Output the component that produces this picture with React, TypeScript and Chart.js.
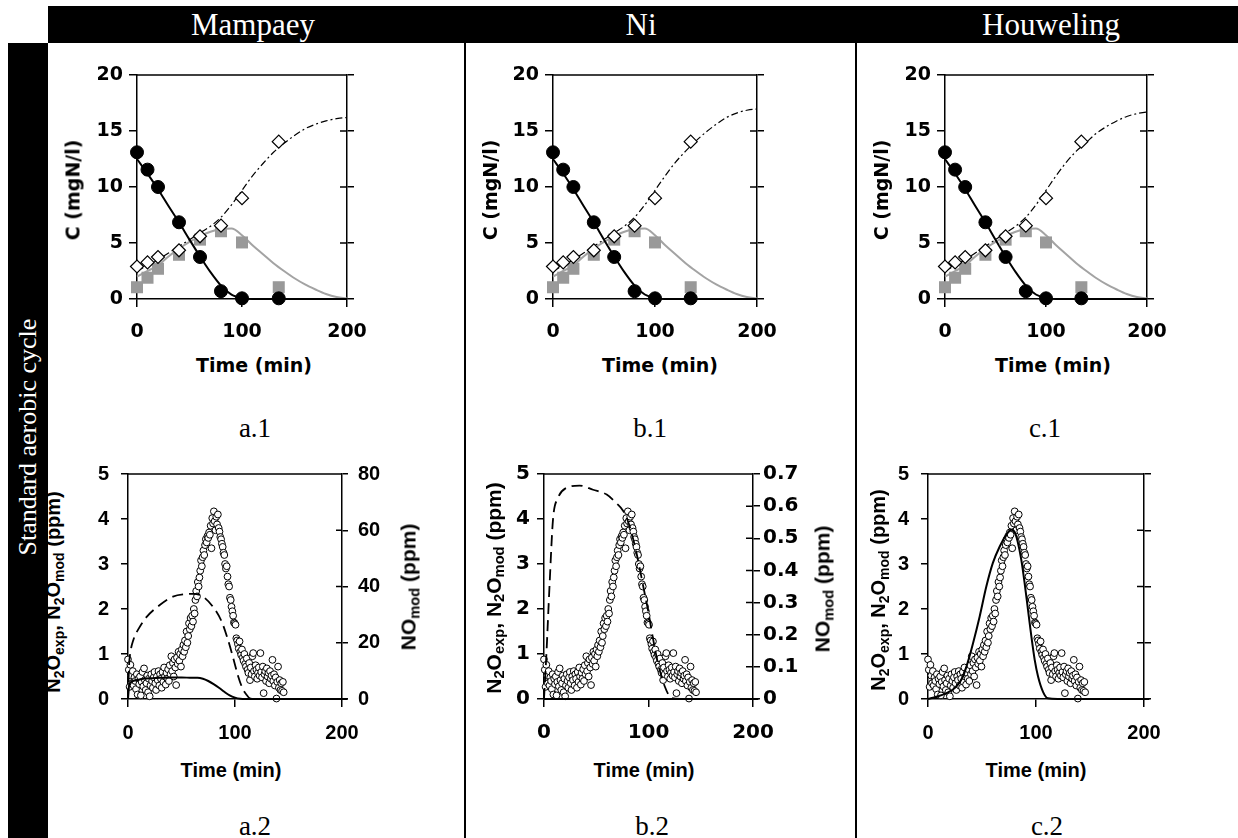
import React, { useEffect, useRef } from 'react';
import { Chart, registerables } from 'chart.js';

Chart.register(...registerables);

// ---------- Data: top row (concentrations, mgN/l) ----------
const expTime = [0, 10, 20, 40, 60, 80, 100, 135];
const nh4Exp = [13.1, 11.55, 10.0, 6.85, 3.75, 0.7, 0.06, 0.06];
const no2Exp = [1.05, 1.9, 2.7, 3.95, 5.3, 6.05, 5.05, 1.05];
const no3Exp = [2.9, 3.27, 3.75, 4.35, 5.6, 6.55, 9.0, 14.05];

const modelTimeTop = [0, 10, 20, 30, 40, 50, 60, 70, 80, 90, 100, 110, 120, 130, 140, 150, 160, 170, 180, 190, 200, 205];
const nh4Model = [12.5, 11.2, 9.8, 8.3, 6.85, 5.3, 3.8, 2.4, 1.2, 0.4, 0.08, 0, 0, 0, 0, 0, 0, 0, 0, 0, 0, 0];
const no2Model = [2.0, 2.5, 3.0, 3.8, 4.5, 5.1, 5.6, 6.0, 6.25, 6.3, 5.7, 4.8, 4.0, 3.2, 2.5, 1.85, 1.3, 0.85, 0.45, 0.18, 0.05, 0.03];
const no3ModelMampaey = [2.5, 3.0, 3.5, 4.1, 4.7, 5.3, 5.9, 6.5, 7.3, 8.4, 9.7, 11.0, 12.1, 13.1, 13.9, 14.6, 15.2, 15.6, 15.9, 16.1, 16.2, 16.2];
const no3ModelNi = [2.5, 3.0, 3.5, 4.1, 4.7, 5.3, 5.9, 6.5, 7.3, 8.4, 9.7, 11.0, 12.2, 13.2, 14.1, 14.9, 15.6, 16.2, 16.6, 16.85, 16.95, 16.95];
const no3ModelHouweling = [2.5, 3.0, 3.5, 4.1, 4.7, 5.3, 5.9, 6.5, 7.3, 8.4, 9.7, 11.0, 12.2, 13.2, 14.0, 14.8, 15.4, 15.9, 16.3, 16.55, 16.7, 16.72];

// ---------- Data: bottom row (N2O / NO, ppm) ----------
const n2oTime = [0, 0.75, 1.5, 2.25, 3, 3.75, 4.5, 5.25, 6, 6.75, 7.5, 8.25, 9, 9.75, 10.5, 11.25, 12, 12.75, 13.5, 14.25, 15, 15.75, 16.5, 17.25, 18, 18.75, 19.5, 20.25, 21, 21.75, 22.5, 23.25, 24, 24.75, 25.5, 26.25, 27, 27.75, 28.5, 29.25, 30, 30.75, 31.5, 32.25, 33, 33.75, 34.5, 35.25, 36, 36.75, 37.5, 38.25, 39, 39.75, 40.5, 41.25, 42, 42.75, 43.5, 44.25, 45, 45.75, 46.5, 47.25, 48, 48.75, 49.5, 50.25, 51, 51.75, 52.5, 53.25, 54, 54.75, 55.5, 56.25, 57, 57.75, 58.5, 59.25, 60, 60.75, 61.5, 62.25, 63, 63.75, 64.5, 65.25, 66, 66.75, 67.5, 68.25, 69, 69.75, 70.5, 71.25, 72, 72.75, 73.5, 74.25, 75, 75.75, 76.5, 77.25, 78, 78.75, 79.5, 80.25, 81, 81.75, 82.5, 83.25, 84, 84.75, 85.5, 86.25, 87, 87.75, 88.5, 89.25, 90, 90.75, 91.5, 92.25, 93, 93.75, 94.5, 95.25, 96, 96.75, 97.5, 98.25, 99, 99.75, 100.5, 101.25, 102, 102.75, 103.5, 104.25, 105, 105.75, 106.5, 107.25, 108, 108.75, 109.5, 110.25, 111, 111.75, 112.5, 113.25, 114, 114.75, 115.5, 116.25, 117, 117.75, 118.5, 119.25, 120, 120.75, 121.5, 122.25, 123, 123.75, 124.5, 125.25, 126, 126.75, 127.5, 128.25, 129, 129.75, 130.5, 131.25, 132, 132.75, 133.5, 134.25, 135, 135.75, 136.5, 137.25, 138, 138.75, 139.5, 140.25, 141, 141.75, 142.5, 143.25, 144, 144.75, 145.5];
const n2oExp = [
  0.88, 0.65, 0.27, 0.76, 0.52, 0.35, 0.62, 0.30, 0.48, 0.40,
  0.22, 0.55, 0.10, 0.45, 0.33, 0.50, 0.08, 0.38, 0.60, 0.28,
  0.68, 0.42, 0.20, 0.35, 0.52, 0.15, 0.45, 0.06, 0.30, 0.55,
  0.40, 0.25, 0.48, 0.60, 0.35, 0.20, 0.50, 0.42, 0.62, 0.30,
  0.55, 0.45, 0.25, 0.60, 0.38, 0.70, 0.50, 0.32, 0.58, 0.45,
  0.66, 0.40, 0.75, 0.55, 0.95, 0.62, 0.80, 0.50, 0.88, 0.70,
  0.31, 0.92, 0.78, 1.05, 0.85, 1.00, 0.72, 1.10, 0.95, 1.20,
  1.05, 1.30, 1.15, 1.50, 1.25, 1.40, 1.68, 1.55, 1.80, 1.62,
  1.85, 1.72, 2.00, 1.90, 2.20, 2.40, 2.28, 2.60, 2.50, 2.70,
  2.85, 3.08, 2.95, 3.15, 3.30, 3.20, 3.42, 3.55, 3.48, 3.62,
  3.58, 3.70, 3.65, 3.85, 3.35, 4.02, 3.90, 4.17, 3.95, 3.75,
  4.05, 3.88, 4.10, 3.80, 3.72, 3.60, 3.55, 3.45, 3.38, 3.25,
  3.20, 3.00, 2.90, 2.95, 2.72, 2.55, 2.50, 2.25, 2.20, 2.05,
  1.95, 1.85, 1.70, 1.68, 1.65, 1.35, 1.30, 1.22, 1.12, 1.28,
  1.05, 0.98, 1.10, 0.92, 0.85, 1.00, 0.78, 0.72, 0.90, 0.65,
  0.58, 0.80, 0.42, 0.70, 0.55, 0.95, 1.02, 0.62, 0.50, 0.75,
  0.65, 0.45, 0.58, 0.70, 0.52, 1.02, 0.60, 0.48, 0.72, 0.13,
  0.55, 0.62, 0.40, 0.68, 0.50, 0.58, 0.35, 0.62, 0.45, 0.52,
  0.87, 0.40, 0.55, 0.30, 0.48, 0.01, 0.38, 0.72, 0.25, 0.42,
  0.20, 0.35, 0.18, 0.38, 0.15,
];

const n2oModTimeMampaey = [0, 1, 3, 10, 20, 30, 40, 50, 60, 65, 70, 75, 80, 85, 90, 95, 100, 105, 110, 150, 205];
const n2oModMampaey = [0, 0.3, 0.38, 0.43, 0.46, 0.47, 0.48, 0.48, 0.47, 0.47, 0.45, 0.4, 0.33, 0.25, 0.16, 0.08, 0.03, 0.005, 0, 0, 0];
const noModTimeMampaey = [0, 1, 2, 5, 10, 17, 30, 42, 55, 61, 70, 79, 87, 93, 98, 103, 107, 111, 114, 120, 205];
const noModMampaey = [0, 12, 16, 21, 25, 29, 33.5, 36.4, 37.3, 37.4, 36.4, 33, 28, 21.6, 15, 8, 3.8, 1.4, 0.2, 0, 0];

const n2oModTimeNi = [0, 50, 100, 150, 205];
const n2oModNi = [0, 0, 0, 0, 0];
const noModTimeNi = [0, 1, 2.2, 5.4, 8.6, 13.4, 21, 34, 47, 60, 69, 76, 82, 88.5, 95, 100, 104.5, 109, 115.6, 122, 130, 205];
const noModNi = [0, 0.06, 0.133, 0.36, 0.558, 0.625, 0.656, 0.664, 0.651, 0.636, 0.61, 0.584, 0.537, 0.454, 0.35, 0.268, 0.185, 0.112, 0.039, 0.003, 0, 0];

const n2oModTimeHouweling = [0, 7.7, 17, 26, 32.4, 37, 41.7, 47.8, 54, 60, 66.4, 72.5, 77, 80, 83, 86.4, 89.5, 92.6, 95.7, 98.8, 101.9, 106.5, 111, 120, 205];
const n2oModHouweling = [0, 0.05, 0.13, 0.27, 0.5, 0.83, 1.24, 1.83, 2.5, 3.02, 3.39, 3.65, 3.76, 3.72, 3.5, 3.09, 2.57, 1.98, 1.39, 0.87, 0.5, 0.16, 0.015, 0, 0];

// ---------- Tick labels ----------
const timeTicks = [0, 100, 200];
const concTicks = [0, 5, 10, 15, 20];
const n2oTicks = [0, 1, 2, 3, 4, 5];
const noTicksMampaey = [0, 20, 40, 60, 80];
const noTicksNi = [0, 0.1, 0.2, 0.3, 0.4, 0.5, 0.6, 0.7];

const xy = (xs: number[], ys: number[]) => xs.map((x, i) => ({ x, y: ys[i] }));

const framePlugin = {
  id: 'frame',
  afterDraw(chart: any, _args: any, opts: any) {
    const { ctx, chartArea: a, scales } = chart;
    const y2 = scales.y2;
    ctx.save();
    ctx.strokeStyle = '#000';
    ctx.lineWidth = 1.5;
    ctx.beginPath();
    ctx.moveTo(a.left, a.top);
    ctx.lineTo(a.right, a.top);
    const len = opts.inner ?? 7;
    y2.ticks.forEach((t: any) => {
      const p = y2.getPixelForValue(t.value);
      ctx.moveTo(a.right - len, p);
      ctx.lineTo(a.right, p);
    });
    ctx.stroke();
    ctx.restore();
  },
};

type Spec = {
  plotL: number; plotT: number; plotW: number; plotH: number;
  wl: number; wr: number; padTop: number; hb: number;
  font: any;
  yMax: number; yTicks: number[];
  y2Max: number; y2Ticks: number[]; y2Labels: boolean;
  leftTick: number; leftPad: number; bottomTick: number; bottomPad: number;
  rightTick: number; rightPad: number; inner: number;
  datasets: any[];
};

const setTicks = (arr: number[]) => (s: any) => { s.ticks = arr.map((v) => ({ value: v })); };

function ChartPanel({ spec }: { spec: Spec }) {
  const ref = useRef<HTMLCanvasElement>(null);
  const width = spec.wl + spec.plotW + spec.wr;
  const height = spec.padTop + spec.plotH + spec.hb;
  useEffect(() => {
    const black = '#000';
    const chart = new Chart(ref.current as HTMLCanvasElement, {
      type: 'scatter',
      data: { datasets: spec.datasets.map((d) => ({ ...d, clip: false })) },
      plugins: [framePlugin],
      options: {
        responsive: false,
        animation: false,
        events: [],
        layout: { padding: { top: spec.padTop, left: 0, right: 0, bottom: 0 } },
        plugins: { legend: { display: false }, tooltip: { enabled: false }, frame: { inner: spec.inner } } as any,
        scales: {
          x: {
            type: 'linear', position: 'bottom', min: 0, max: 200,
            afterBuildTicks: setTicks(timeTicks),
            afterFit: (s: any) => { s.height = spec.hb; },
            ticks: { font: spec.font, color: black, padding: spec.bottomPad, maxRotation: 0, autoSkip: false },
            grid: { drawOnChartArea: false, drawTicks: true, tickLength: spec.bottomTick, color: black, lineWidth: 1.5 },
            border: { display: true, color: black, width: 1.5 },
          },
          y: {
            type: 'linear', position: 'left', min: 0, max: spec.yMax,
            afterBuildTicks: setTicks(spec.yTicks),
            afterFit: (s: any) => { s.width = spec.wl; },
            ticks: { font: spec.font, color: black, padding: spec.leftPad, autoSkip: false },
            grid: { drawOnChartArea: false, drawTicks: true, tickLength: spec.leftTick, color: black, lineWidth: 1.5 },
            border: { display: true, color: black, width: 1.5 },
          },
          y2: {
            type: 'linear', position: 'right', min: 0, max: spec.y2Max,
            afterBuildTicks: setTicks(spec.y2Ticks),
            afterFit: (s: any) => { s.width = spec.wr; },
            ticks: {
              display: spec.y2Labels, font: spec.font, color: black, padding: spec.rightPad, autoSkip: false,
              callback: (v: any) => (Number(v) === 0 ? '0' : String(Math.round(Number(v) * 10) / 10)),
            },
            grid: { drawOnChartArea: false, drawTicks: true, tickLength: spec.rightTick, color: black, lineWidth: 1.5 },
            border: { display: true, color: black, width: 1.5 },
          },
        },
      } as any,
    });
    return () => chart.destroy();
  }, []);
  return (
    <canvas
      ref={ref}
      width={width}
      height={height}
      style={{ position: 'absolute', left: spec.plotL - spec.wl, top: spec.plotT - spec.padTop, width, height }}
    />
  );
}

const topFont = { family: 'DejaVu Sans', weight: 'bold', size: 19 };
const arialFont = { family: 'Liberation Sans', weight: 'bold', size: 20 };
const wideFont = { family: 'DejaVu Sans', weight: 'bold', size: 20 };

function topDatasets(no3Model: number[]) {
  return [
    { data: xy(expTime, nh4Exp), pointStyle: 'circle', pointRadius: 6.5, backgroundColor: '#000', borderColor: '#000', borderWidth: 1, yAxisID: 'y' },
    { data: xy(expTime, no3Exp), pointStyle: 'rectRot', pointRadius: 6.5, backgroundColor: '#fff', borderColor: '#000', borderWidth: 1.2, yAxisID: 'y' },
    { data: xy(expTime, no2Exp), pointStyle: 'rect', pointRadius: 8.5, backgroundColor: '#999999', borderColor: '#999999', borderWidth: 0, yAxisID: 'y' },
    { data: xy(modelTimeTop, nh4Model), showLine: true, pointRadius: 0, borderColor: '#000', borderWidth: 2, cubicInterpolationMode: 'monotone', yAxisID: 'y' },
    { data: xy(modelTimeTop, no2Model), showLine: true, pointRadius: 0, borderColor: '#a3a3a3', borderWidth: 2, cubicInterpolationMode: 'monotone', yAxisID: 'y' },
    { data: xy(modelTimeTop, no3Model), showLine: true, pointRadius: 0, borderColor: '#000', borderWidth: 1.2, borderDash: [7, 3, 2, 3], cubicInterpolationMode: 'monotone', yAxisID: 'y' },
  ];
}

const topBase = {
  plotT: 75, plotH: 224, wl: 55, wr: 42, padTop: 22, hb: 50, font: topFont,
  yMax: 20, yTicks: concTicks, y2Max: 20, y2Ticks: concTicks, y2Labels: false,
  leftTick: 8, leftPad: 6, bottomTick: 8, bottomPad: 14, rightTick: 7, rightPad: 4, inner: 7,
};

const circlesDs = { data: xy(n2oTime, n2oExp), pointStyle: 'circle', pointRadius: 3.4, backgroundColor: '#fff', borderColor: '#000', borderWidth: 1, yAxisID: 'y' };

const botBase = {
  plotT: 474, plotH: 225, wl: 60, padTop: 30, hb: 50,
  yMax: 5, yTicks: n2oTicks,
  leftTick: 7, leftPad: 12, bottomTick: 8, bottomPad: 14,
};

const specs: Spec[] = [
  { ...topBase, plotL: 137, plotW: 210, datasets: topDatasets(no3ModelMampaey) } as Spec,
  { ...topBase, plotL: 553, plotW: 204, datasets: topDatasets(no3ModelNi) } as Spec,
  { ...topBase, plotL: 945, plotW: 202, datasets: topDatasets(no3ModelHouweling) } as Spec,
  {
    ...botBase, plotL: 128, plotW: 214, wr: 55, font: arialFont, y2Max: 80, y2Ticks: noTicksMampaey, y2Labels: true,
    rightTick: 6, rightPad: 10, inner: 6,
    datasets: [
      { data: xy(n2oModTimeMampaey, n2oModMampaey), showLine: true, pointRadius: 0, borderColor: '#000', borderWidth: 2, cubicInterpolationMode: 'monotone', yAxisID: 'y' },
      { data: xy(noModTimeMampaey, noModMampaey), showLine: true, pointRadius: 0, borderColor: '#000', borderWidth: 1.8, borderDash: [11, 6], cubicInterpolationMode: 'monotone', yAxisID: 'y2' },
      circlesDs,
    ],
  } as Spec,
  {
    ...botBase, plotL: 544, plotW: 209, wr: 58, font: wideFont, leftPad: 7, y2Max: 0.7, y2Ticks: noTicksNi, y2Labels: true,
    rightTick: 7, rightPad: 3, inner: 7,
    datasets: [
      { data: xy(n2oModTimeNi, n2oModNi), showLine: true, pointRadius: 0, borderColor: '#000', borderWidth: 2, yAxisID: 'y' },
      { data: xy(noModTimeNi, noModNi), showLine: true, pointRadius: 0, borderColor: '#000', borderWidth: 1.8, borderDash: [11, 6], cubicInterpolationMode: 'monotone', yAxisID: 'y2' },
      circlesDs,
    ],
  } as Spec,
  {
    ...botBase, plotL: 928, plotW: 216, wr: 42, font: arialFont, y2Max: 80, y2Ticks: noTicksMampaey, y2Labels: false,
    rightTick: 7, rightPad: 4, inner: 7,
    datasets: [
      { data: xy(n2oModTimeHouweling, n2oModHouweling), showLine: true, pointRadius: 0, borderColor: '#000', borderWidth: 2, cubicInterpolationMode: 'monotone', yAxisID: 'y' },
      circlesDs,
    ],
  } as Spec,
];

const serif = '"Liberation Serif", "Times New Roman", serif';

function Centered({ x, y, rotate, style, children }: any) {
  return (
    <div
      style={{
        position: 'absolute', left: x, top: y, whiteSpace: 'nowrap', lineHeight: 1,
        transform: `translate(-50%, -50%)${rotate ? ' rotate(-90deg)' : ''}`,
        ...style,
      }}
    >
      {children}
    </div>
  );
}

const topTitle = { fontFamily: '"DejaVu Sans", sans-serif', fontWeight: 'bold', fontSize: 19, color: '#000' };
const botTitle = { fontFamily: '"Liberation Sans", Arial, sans-serif', fontWeight: 'bold', fontSize: 20, color: '#000' };
const botTitleBig = { ...botTitle, fontSize: 21 };
const subStyle = { fontSize: '0.7em', verticalAlign: '-0.25em', lineHeight: 0 };
const panelLabel = { fontFamily: serif, fontSize: 27, color: '#000' };

const N2OTitle = () => (
  <span>N<span style={subStyle}>2</span>O<span style={subStyle}>exp</span>, N<span style={subStyle}>2</span>O<span style={subStyle}>mod</span> (ppm)</span>
);
const NOTitle = () => (
  <span>NO<span style={subStyle}>mod</span> (ppm)</span>
);

export default function App() {
  return (
    <div style={{ position: 'absolute', left: 0, top: 0, width: 1238, height: 838, background: '#fff', overflow: 'hidden' }}>
      {/* header */}
      <div style={{ position: 'absolute', left: 48, top: 6, width: 1190, height: 37, background: '#000' }} />
      <div style={{ position: 'absolute', left: 8, top: 43, width: 40, height: 795, background: '#000' }} />
      {[['Mampaey', 253], ['Ni', 641], ['Houweling', 1051]].map(([t, x]) => (
        <div key={t as string} style={{ position: 'absolute', left: x as number, top: 6, height: 37, lineHeight: '37px', transform: 'translateX(-50%)', color: '#fff', fontFamily: serif, fontSize: 31, whiteSpace: 'nowrap' }}>
          {t}
        </div>
      ))}
      <Centered x={28} y={437} rotate style={{ color: '#fff', fontFamily: serif, fontSize: 26 }}>Standard aerobic cycle</Centered>
      {/* separators */}
      <div style={{ position: 'absolute', left: 464, top: 43, width: 2, height: 795, background: '#000' }} />
      <div style={{ position: 'absolute', left: 855, top: 43, width: 2, height: 795, background: '#000' }} />

      {specs.map((s, i) => <ChartPanel key={i} spec={s} />)}

      {/* top titles */}
      {[73, 490, 881].map((x) => (
        <Centered key={'cy' + x} x={x} y={190} rotate style={topTitle}>C (mgN/l)</Centered>
      ))}
      {[254, 660, 1053].map((x) => (
        <Centered key={'tx' + x} x={x} y={365} style={topTitle}>Time (min)</Centered>
      ))}
      {/* bottom titles */}
      <Centered x={53} y={592} rotate style={botTitle}><N2OTitle /></Centered>
      <Centered x={493} y={588} rotate style={botTitleBig}><N2OTitle /></Centered>
      <Centered x={878} y={590} rotate style={botTitle}><N2OTitle /></Centered>
      <Centered x={408} y={587} rotate style={botTitleBig}><NOTitle /></Centered>
      <Centered x={822} y={589} rotate style={botTitleBig}><NOTitle /></Centered>
      {[231, 644, 1036].map((x) => (
        <Centered key={'bx' + x} x={x} y={770} style={botTitle}>Time (min)</Centered>
      ))}

      {/* panel labels */}
      <Centered x={255} y={428} style={panelLabel}>a.1</Centered>
      <Centered x={650} y={428} style={panelLabel}>b.1</Centered>
      <Centered x={1045} y={428} style={panelLabel}>c.1</Centered>
      <Centered x={255} y={826} style={panelLabel}>a.2</Centered>
      <Centered x={652} y={826} style={panelLabel}>b.2</Centered>
      <Centered x={1047} y={826} style={panelLabel}>c.2</Centered>
    </div>
  );
}
